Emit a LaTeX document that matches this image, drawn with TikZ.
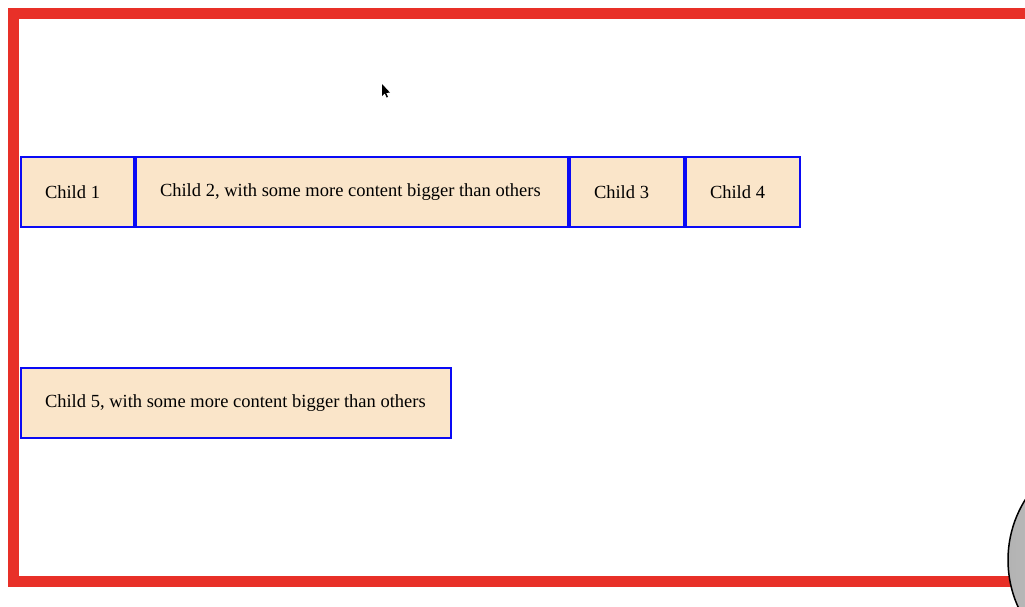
\documentclass[tikz,border=0pt]{standalone}
\usepackage{fontspec}
\setmainfont{Liberation Serif}
\definecolor{frame}{RGB}{232,48,40}
\definecolor{boxfill}{RGB}{250,229,201}
\definecolor{boxline}{RGB}{10,10,245}
\newcommand{\lbox}[2]{\makebox[#1][l]{#2}}
\tikzset{
  child/.style={draw=boxline, line width=2pt, fill=boxfill, inner xsep=24pt, inner ysep=0pt,
    minimum height=70pt, anchor=north west,
    font=\fontsize{18.5}{22}\selectfont},
}
\begin{document}
\begin{tikzpicture}[x=1pt,y=-1pt]
\useasboundingbox (0,0) rectangle (1025,606);
\clip (0,0) rectangle (1025,606);
\fill[white] (0,0) rectangle (1025,606);
% outer frame
\draw[frame, line width=11pt] (13.5,13) rectangle (1060,581.5);
% children row 1
\node[child] (c1) at (20,156) {\lbox{65pt}{Child 1}};
\node[child] (c2) at (c1.north east) {\lbox{384pt}{Child 2, with some more content bigger than others}};
\node[child] (c3) at (c2.north east) {\lbox{66pt}{Child 3}};
\node[child] (c4) at (c3.north east) {\lbox{66pt}{Child 4}};
% child 5
\node[child] (c5) at (20,367) {\lbox{382pt}{Child 5, with some more content bigger than others}};
% mouse cursor
\fill[black] (382,84) -- (382,96) -- (384.8,93.4) -- (386.6,97.5) -- (388,96.9) -- (386.2,92.9) -- (390,92.6) -- cycle;
% magnifier edge at bottom right
\shade[left color=gray!60, right color=gray!15, draw=black, line width=1.5pt] (1122,560) circle (114);
\end{tikzpicture}
\end{document}
